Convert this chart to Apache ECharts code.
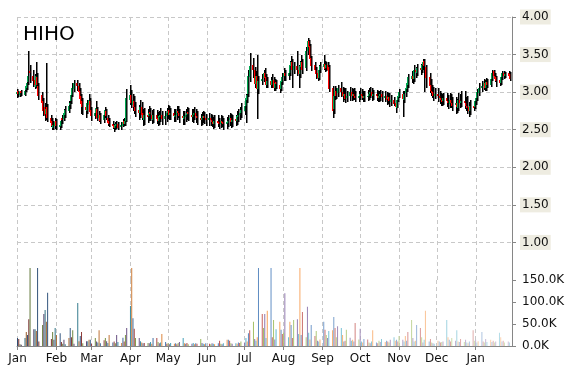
<!DOCTYPE html>
<html><head><meta charset="utf-8">
<script src="https://cdn.jsdelivr.net/npm/echarts@6/dist/echarts.min.js"></script>
<style>html,body{margin:0;padding:0;background:#fff}#c{width:570px;height:370px}</style>
</head><body><div id="c"></div>
<script>
const symbolName = 'HIHO';
const monthLabels = ['Jan','Feb','Mar','Apr','May','Jun','Jul','Aug','Sep','Oct','Nov','Dec'];
const priceTicks = [1.00, 1.50, 2.00, 2.50, 3.00, 3.50, 4.00];
const volumeTicks = [0, 50, 100, 150];

// one row per week (Mon..Fri), first row starts Tue 1 Jan
const opens = [
2.98,3.01,2.96,3.01,
2.97,3.03,3.06,3.14,3.28, 3.22,3.16,3.08,3.20,3.08, 2.96,2.88,2.80,2.72,2.80, 2.66,2.62,2.52,2.55,2.62,
2.54,2.55,2.65,2.64,2.70, 2.76,2.84,2.88,2.97,3.04, 3.12,3.08,3.02,2.95,2.88, 2.80,2.75,2.84,2.88,2.76,
2.68,2.72,2.78,2.66,2.70, 2.63,2.70,2.75,2.66,2.62, 2.58,2.56,2.52,2.55,2.58, 2.53,2.55,2.62,2.58,2.62,
2.90,2.96,2.84,2.88,2.80, 2.76,2.72,2.80,2.72,2.64, 2.70,2.68,2.73,2.70,2.64, 2.70,2.66,2.62,2.68,2.70,
2.64,2.68,2.72,2.76,2.70, 2.72,2.67,2.70,2.75,2.72, 2.68,2.64,2.68,2.70,2.73, 2.70,2.67,2.70,2.72,2.68,
2.65,2.62,2.65,2.68,2.65, 2.62,2.65,2.63,2.60,2.58, 2.62,2.60,2.58,2.62,2.60, 2.57,2.60,2.62,2.65,2.60,
2.64,2.62,2.67,2.70,2.72, 2.76,2.82,2.90,2.98,3.20, 3.36,3.30,3.12,3.22,3.04, 3.15,3.18,3.26,3.20,3.10,
3.15,3.10,3.16,3.06,3.13, 3.10,3.05,3.14,3.20,3.26, 3.22,3.26,3.35,3.40,3.30, 3.35,3.30,3.25,3.34,3.40,
3.32,3.55,3.68,3.62,3.45, 3.36,3.30,3.26,3.20,3.30, 3.34,3.38,3.32,3.36,3.34, 3.05,2.78,2.95,3.02,2.98,
3.05,3.00,2.95,2.98,2.92, 2.95,3.00,2.95,2.98,2.95, 2.92,2.95,2.98,2.95,2.92, 2.95,2.95,2.98,3.00,2.95,
2.97,2.95,2.92,2.95,2.97, 2.93,2.95,2.90,2.93,2.88, 2.90,2.85,2.80,2.90,2.94, 2.98,2.90,2.98,3.04,3.10,
3.18,3.22,3.18,3.30,3.26, 3.32,3.30,3.36,3.42,3.34, 3.20,3.10,3.02,3.00,2.95, 2.98,2.95,2.92,2.90,2.88,
2.92,2.88,2.85,2.90,2.86, 2.82,2.85,2.80,2.90,2.86, 2.88,2.86,2.82,2.80,2.76, 2.82,2.80,2.88,2.92,2.99,
3.05,3.08,3.12,3.06,3.14, 3.10,3.18,3.28,3.22,3.20, 3.16,3.12,3.20,3.26,3.22,
3.26,3.24
];
const closes = [
3.00,2.97,3.00,2.98,
3.02,3.08,3.12,3.22,3.25, 3.15,3.10,3.22,3.10,2.95, 2.85,2.75,2.70,2.78,2.65, 2.60,2.55,2.56,2.60,2.55,
2.56,2.62,2.63,2.72,2.76, 2.82,2.86,2.96,3.06,3.12, 3.08,3.00,2.92,2.85,2.80, 2.76,2.86,2.90,2.74,2.68,
2.72,2.79,2.66,2.70,2.62, 2.70,2.76,2.68,2.60,2.58, 2.55,2.52,2.56,2.58,2.53, 2.56,2.60,2.58,2.62,2.92,
2.96,2.86,2.90,2.80,2.75, 2.72,2.80,2.70,2.65,2.70, 2.68,2.72,2.70,2.65,2.70, 2.65,2.62,2.68,2.70,2.65,
2.68,2.72,2.75,2.70,2.72, 2.68,2.70,2.75,2.72,2.68, 2.65,2.68,2.70,2.72,2.70, 2.68,2.70,2.72,2.68,2.65,
2.62,2.65,2.68,2.65,2.62, 2.65,2.62,2.60,2.58,2.62, 2.60,2.58,2.62,2.60,2.57, 2.60,2.62,2.65,2.60,2.63,
2.62,2.68,2.70,2.72,2.76, 2.82,2.92,2.96,3.22,3.35, 3.30,3.12,3.22,3.05,3.15, 3.18,3.25,3.20,3.10,3.15,
3.10,3.16,3.06,3.12,3.10, 3.05,3.15,3.20,3.25,3.22, 3.26,3.36,3.40,3.30,3.35, 3.30,3.25,3.35,3.40,3.30,
3.55,3.68,3.60,3.45,3.35, 3.30,3.25,3.20,3.30,3.35, 3.38,3.32,3.36,3.30,3.05, 2.75,2.95,3.02,2.96,3.05,
3.00,2.95,2.98,2.92,2.95, 3.00,2.95,2.98,2.95,2.92, 2.95,2.98,2.95,2.92,2.95, 2.95,2.98,3.00,2.95,2.97,
2.95,2.92,2.95,2.97,2.93, 2.95,2.90,2.93,2.88,2.90, 2.85,2.80,2.90,2.95,3.00, 2.92,2.98,3.05,3.12,3.20,
3.22,3.18,3.30,3.28,3.32, 3.30,3.36,3.40,3.35,3.20, 3.08,3.02,3.00,2.95,2.98, 2.95,2.92,2.90,2.88,2.92,
2.88,2.85,2.90,2.86,2.82, 2.85,2.80,2.90,2.86,2.88, 2.85,2.82,2.80,2.75,2.82, 2.80,2.88,2.92,3.00,3.05,
3.08,3.12,3.06,3.14,3.10, 3.18,3.26,3.22,3.18,3.15, 3.12,3.20,3.25,3.22,3.24,
3.22,3.18
];
const lows = [
2.92,2.94,2.94,2.95,
2.95,3.00,3.04,3.10,3.12, 3.08,3.04,3.05,3.02,2.90, 2.78,2.68,2.62,2.63,2.60, 2.54,2.50,2.50,2.52,2.50,
2.50,2.53,2.58,2.62,2.66, 2.72,2.78,2.84,2.94,3.00, 3.02,2.95,2.86,2.72,2.70, 2.66,2.72,2.80,2.70,2.62,
2.64,2.68,2.62,2.60,2.58, 2.60,2.66,2.64,2.56,2.54, 2.52,2.48,2.50,2.52,2.50, 2.50,2.53,2.55,2.56,2.60,
2.83,2.79,2.75,2.71,2.67, 2.63,2.65,2.63,2.55,2.57, 2.59,2.61,2.62,2.57,2.59, 2.57,2.55,2.57,2.61,2.57,
2.57,2.61,2.65,2.63,2.63, 2.61,2.60,2.63,2.65,2.59, 2.57,2.57,2.61,2.63,2.62, 2.60,2.60,2.63,2.60,2.57,
2.55,2.56,2.59,2.57,2.55, 2.55,2.55,2.53,2.51,2.52, 2.53,2.51,2.52,2.53,2.50, 2.51,2.53,2.55,2.53,2.54,
2.54,2.57,2.61,2.63,2.65, 2.70,2.60,2.86,2.94,3.14, 3.18,3.06,3.08,2.65,2.98, 3.10,3.14,3.16,3.05,3.06,
3.05,3.06,3.02,3.02,3.04, 3.00,3.02,3.10,3.15,3.16, 3.16,3.22,3.30,3.06,3.24, 3.22,3.06,3.20,3.30,3.24,
3.28,3.50,3.52,3.38,3.28, 3.24,3.18,3.15,3.16,3.26, 3.30,3.28,3.28,3.20,3.00, 2.66,2.72,2.90,2.92,2.94,
2.93,2.87,2.89,2.85,2.87, 2.89,2.89,2.90,2.89,2.86, 2.87,2.89,2.89,2.86,2.87, 2.88,2.89,2.92,2.89,2.90,
2.89,2.86,2.87,2.89,2.87, 2.87,2.83,2.85,2.81,2.82, 2.82,2.72,2.78,2.88,2.92, 2.68,2.86,2.94,3.00,3.06,
3.12,3.12,3.14,3.20,3.22, 3.24,3.26,3.30,3.00,3.05, 2.99,2.95,2.92,2.89,2.90, 2.87,2.85,2.82,2.81,2.83,
2.81,2.77,2.79,2.79,2.75, 2.71,2.73,2.75,2.79,2.80, 2.77,2.75,2.71,2.67,2.69, 2.76,2.78,2.84,2.88,2.95,
3.00,3.04,3.02,3.02,3.05, 3.08,3.14,3.18,3.14,3.08, 3.08,3.10,3.16,3.18,3.19,
3.18,3.15
];
const highs = [
3.04,3.02,3.02,3.03,
3.06,3.12,3.18,3.55,3.36, 3.30,3.24,3.40,3.26,3.12, 3.00,2.92,2.86,3.39,2.84, 2.70,2.66,2.62,2.66,2.64,
2.62,2.66,2.70,2.78,2.82, 2.88,2.92,3.00,3.12,3.16, 3.16,3.12,3.05,2.98,2.92, 2.84,2.90,2.98,2.92,2.80,
2.76,2.88,2.80,2.75,2.72, 2.74,2.80,2.78,2.70,2.66, 2.62,2.58,2.60,2.62,2.60, 2.60,2.64,2.66,2.66,3.04,
3.09,3.03,2.98,2.95,2.87, 2.83,2.89,2.87,2.78,2.79, 2.77,2.81,2.79,2.76,2.77, 2.76,2.73,2.75,2.79,2.75,
2.75,2.79,2.83,2.81,2.79, 2.78,2.77,2.82,2.81,2.77, 2.75,2.75,2.78,2.80,2.79, 2.77,2.78,2.80,2.78,2.75,
2.71,2.73,2.75,2.73,2.71, 2.72,2.71,2.69,2.67,2.69, 2.69,2.66,2.69,2.68,2.66, 2.67,2.69,2.72,2.71,2.70,
2.69,2.75,2.78,2.80,2.85, 2.88,2.98,3.10,3.30,3.52, 3.45,3.34,3.28,3.50,3.22, 3.24,3.30,3.32,3.24,3.20,
3.20,3.24,3.20,3.18,3.16, 3.14,3.20,3.26,3.32,3.30, 3.32,3.42,3.48,3.44,3.40, 3.55,3.36,3.42,3.50,3.44,
3.60,3.72,3.70,3.64,3.48, 3.40,3.34,3.30,3.36,3.40, 3.50,3.42,3.40,3.40,3.36, 3.08,2.98,3.08,3.06,3.10,
3.13,3.07,3.05,3.05,3.01, 3.07,3.06,3.04,3.05,3.01, 3.02,3.05,3.04,3.01,3.02, 3.03,3.05,3.07,3.06,3.03,
3.03,3.01,3.01,3.03,3.02, 3.01,3.00,2.99,2.99,2.96, 2.94,2.88,2.93,2.98,3.04, 3.02,3.02,3.10,3.16,3.24,
3.28,3.26,3.36,3.34,3.38, 3.38,3.40,3.44,3.44,3.36, 3.25,3.17,3.09,3.07,3.05, 3.05,3.02,2.99,2.97,2.99,
2.99,2.96,2.99,2.97,2.93, 2.93,2.91,2.99,2.97,3.01, 3.01,2.93,2.95,2.87,2.89, 2.86,2.92,2.98,3.04,3.12,
3.15,3.18,3.16,3.19,3.17, 3.22,3.29,3.30,3.26,3.22, 3.20,3.24,3.28,3.28,3.27,
3.28,3.27
];
// volume in thousands
const volumes = [
18,16,4,3,
18,32,25,61,177, 38,38,34,177,10, 48,73,82,55,121, 16,32,14,41,25,
29,9,5,14,4, 18,41,20,36,5, 98,11,23,32,6, 11,11,14,14,5,
18,10,8,36,6, 13,18,11,7,25, 8,10,6,25,9, 7,19,10,25,41,
91,177,63,39,18, 18,11,8,6,7, 7,6,9,5,18, 18,9,6,8,27,
9,5,6,4,7, 5,6,4,7,9, 18,6,5,7,4, 5,7,4,6,5,
16,7,5,4,6, 5,4,6,5,4, 6,12,5,4,6, 14,14,12,6,5,
6,5,8,7,10, 8,18,10,29,36, 55,16,12,20,177, 73,41,73,18,80,
177,20,59,15,38, 55,37,27,30,120, 20,55,48,18,59, 61,27,177,25,77,
20,89,30,15,48, 23,34,12,10,15, 55,37,25,18,34, 36,66,41,20,45,
41,25,10,12,37, 19,12,14,10,52, 15,39,10,8,16, 15,8,6,10,36,
8,6,12,9,16, 9,12,10,8,14, 20,12,14,10,23, 14,10,23,12,32,
59,18,10,12,48, 41,20,8,14,80, 10,16,8,6,5, 12,10,8,9,10,
59,20,14,10,18, 12,36,10,9,16, 9,14,8,6,10, 36,12,14,8,11,
32,10,8,16,9, 14,9,12,8,10, 30,20,10,12,8,
10,8
];

// trading days (weekdays) from 1 Jan 2019
const dates = [];
(function () {
  const d = new Date(2019, 0, 1);
  while (dates.length < closes.length) {
    const wd = d.getDay();
    if (wd !== 0 && wd !== 6) dates.push(new Date(d.getFullYear(), d.getMonth(), d.getDate()).getTime());
    d.setDate(d.getDate() + 1);
  }
})();

const xMin = new Date(2019, 0, 1).getTime();
const xMax = new Date(2020, 0, 29, 14).getTime();

const baseColors = ['#4F81BD', '#C0504D', '#9BBB59', '#8064A2', '#4BACC6', '#F79646'];
function shade(hex, s) {
  const n = parseInt(hex.slice(1), 16);
  let r = (n >> 16) & 255, g = (n >> 8) & 255, b = n & 255;
  if (s < 0) { r *= 1 + s; g *= 1 + s; b *= 1 + s; }
  else { r += (255 - r) * s; g += (255 - g) * s; b += (255 - b) * s; }
  return 'rgb(' + Math.round(r) + ',' + Math.round(g) + ',' + Math.round(b) + ')';
}

const candleData = dates.map((t, i) => [t, opens[i], closes[i], lows[i], highs[i]]);
const volumeData = dates.map((t, i) => [t, volumes[i]]);

const font = 'DejaVu Sans';
const gridColor = '#C8C8C8';
const axisColor = '#868686';

const chart = echarts.init(document.getElementById('c'), null, { renderer: 'canvas' });
chart.setOption({
  animation: false,
  backgroundColor: '#fff',
  title: {
    text: symbolName, left: 23, top: 25, padding: 0,
    textStyle: { fontFamily: font, fontSize: 20, fontWeight: 'normal', color: '#000' }
  },
  grid: [
    { left: 17, right: 58, top: 17, height: 263, outerBoundsMode: 'none' },
    { left: 17, right: 58, top: 280, height: 66, outerBoundsMode: 'none' }
  ],
  xAxis: [
    {
      type: 'time', gridIndex: 0, min: xMin, max: xMax,
      splitNumber: 13, minInterval: 28 * 864e5, maxInterval: 31 * 864e5,
      axisLine: { show: false }, axisTick: { show: false }, axisLabel: { show: false },
      splitLine: { show: true, lineStyle: { color: gridColor, type: [4, 3], width: 1 } }
    },
    {
      type: 'time', gridIndex: 1, min: xMin, max: xMax,
      splitNumber: 13, minInterval: 28 * 864e5, maxInterval: 31 * 864e5,
      axisLine: { show: true, lineStyle: { color: axisColor, width: 1 } },
      axisTick: { show: true, length: 4, lineStyle: { color: axisColor } },
      axisLabel: {
        show: true, fontFamily: font, fontSize: 12, color: '#111', margin: 7,
        formatter: v => monthLabels[new Date(v).getMonth()]
      },
      splitLine: { show: true, lineStyle: { color: gridColor, type: [4, 3], width: 1 } }
    }
  ],
  yAxis: [
    {
      type: 'value', gridIndex: 0, position: 'right', min: 0.5, max: 4, interval: 0.5,
      axisLine: { show: true, lineStyle: { color: axisColor, width: 1 } },
      axisTick: { show: true, length: 4, lineStyle: { color: axisColor } },
      axisLabel: {
        show: true, showMinLabel: false, fontFamily: font, fontSize: 12, color: '#111',
        margin: 8, backgroundColor: '#EEECE1', padding: [2, 2, 1, 2],
        formatter: v => (priceTicks.indexOf(v) >= 0 ? v.toFixed(2) : '')
      },
      splitLine: { show: true, showMinLine: false, lineStyle: { color: gridColor, type: [4, 3], width: 1 } }
    },
    {
      type: 'value', gridIndex: 1, position: 'right', min: 0, max: 150, interval: 50,
      axisLine: { show: true, lineStyle: { color: axisColor, width: 1 } },
      axisTick: { show: true, length: 4, lineStyle: { color: axisColor } },
      axisLabel: {
        show: true, fontFamily: font, fontSize: 12, color: '#111', margin: 10,
        formatter: v => (volumeTicks.indexOf(v) >= 0 ? v.toFixed(1) + 'K' : '')
      },
      splitLine: { show: false }
    }
  ],
  series: [
    {
      type: 'custom', name: 'price', xAxisIndex: 0, yAxisIndex: 0,
      encode: { x: 0, y: [1, 2, 3, 4] },
      data: candleData,
      renderItem: function (params, api) {
        const t = api.value(0), o = api.value(1), c = api.value(2), l = api.value(3), h = api.value(4);
        const pO = api.coord([t, o]), pC = api.coord([t, c]), pL = api.coord([t, l]), pH = api.coord([t, h]);
        const x = Math.round(pO[0]);
        const top = Math.round(Math.min(pO[1], pC[1]));
        const hgt = Math.max(1, Math.round(Math.abs(pO[1] - pC[1])));
        return {
          type: 'group',
          children: [
            { type: 'rect', shape: { x: x, y: Math.round(pH[1]), width: 1.5, height: Math.round(pL[1] - pH[1]) }, style: { fill: '#000' } },
            { type: 'rect', shape: { x: x - 1, y: top, width: 1.2, height: hgt },
              style: { fill: c >= o ? '#00A650' : '#FF0000' } }
          ]
        };
      }
    },
    {
      type: 'bar', name: 'volume', xAxisIndex: 1, yAxisIndex: 1,
      data: volumeData, barWidth: 1, clip: false,
      itemStyle: {
        color: function (p) {
          const t = p.dataIndex / (volumes.length - 1);
          return shade(baseColors[p.dataIndex % baseColors.length], -0.4 + 1.0 * t);
        }
      }
    }
  ]
});
</script></body></html>
